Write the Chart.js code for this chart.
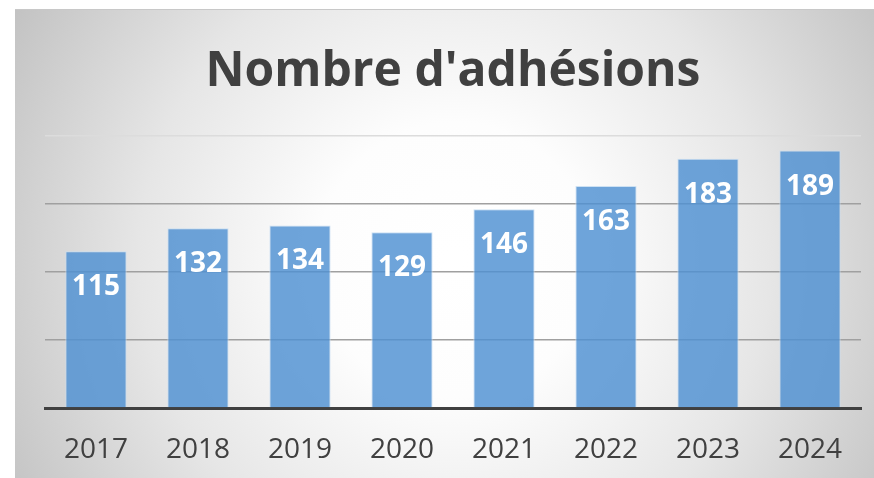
<!DOCTYPE html>
<html>
<head>
<meta charset="utf-8">
<script src="https://cdn.jsdelivr.net/npm/chart.js@4/dist/chart.umd.min.js"></script>
<style>
  html, body { margin: 0; padding: 0; background: #ffffff; }
  #wrap { position: absolute; left: 15px; top: 9px; width: 859px; height: 469px; border-top: 1px solid #c8c8c8; }
  canvas { display: block; }
</style>
</head>
<body>
<div id="wrap"><canvas id="c" width="859" height="468"></canvas></div>
<script>
const titleText = "Nombre d'adhésions";
const categories = ["2017", "2018", "2019", "2020", "2021", "2022", "2023", "2024"];
const adhesions = [115, 132, 134, 129, 146, 163, 183, 189];
const yMax = 200;
const yStep = 50;

const bgPlugin = {
  id: 'bg',
  beforeDraw(chart) {
    const ctx = chart.ctx;
    const w = chart.width, h = chart.height;
    ctx.save();
    const g = ctx.createRadialGradient(440, 250, 10, 440, 250, 520);
    g.addColorStop(0, '#ffffff');
    g.addColorStop(0.25, '#fdfdfd');
    g.addColorStop(0.6, '#e6e6e6');
    g.addColorStop(1, '#c0c0c0');
    ctx.fillStyle = g;
    ctx.fillRect(0, 0, w, h);
    ctx.restore();
  }
};

const labelPlugin = {
  id: 'valueLabels',
  afterDatasetsDraw(chart) {
    const ctx = chart.ctx;
    const meta = chart.getDatasetMeta(0);
    ctx.save();
    ctx.fillStyle = '#ffffff';
    ctx.font = 'bold 28px "Open Sans"';
    ctx.textAlign = 'center';
    ctx.textBaseline = 'middle';
    meta.data.forEach((bar, i) => {
      ctx.fillText(String(chart.data.datasets[0].data[i]), bar.x, bar.y + 36);
    });
    ctx.restore();
  }
};

new Chart(document.getElementById('c'), {
  type: 'bar',
  data: {
    labels: categories,
    datasets: [{
      data: adhesions,
      backgroundColor: 'rgba(78,144,210,0.82)',
      borderColor: 'rgba(200,222,242,0.9)',
      borderWidth: 1,
      categoryPercentage: 1.0,
      barPercentage: 0.6
    }]
  },
  options: {
    responsive: false,
    animation: false,
    devicePixelRatio: 1,
    layout: { padding: { left: 30, right: 13, top: 0, bottom: 0 } },
    plugins: {
      legend: { display: false },
      tooltip: { enabled: false },
      title: {
        display: true,
        text: titleText,
        color: '#404040',
        font: { family: 'Open Sans', weight: 'bold', size: 48, lineHeight: 1.2 },
        padding: { top: 34, bottom: 34 }
      }
    },
    scales: {
      x: {
        grid: { display: false, drawTicks: false },
        border: { display: true, color: '#404040', width: 3 },
        ticks: { color: '#404040', font: { family: 'Open Sans', size: 28, lineHeight: 1.2 }, padding: 25 },
        afterFit(scale) { scale.height = 70; }
      },
      y: {
        min: 0, max: yMax,
        ticks: { display: false, stepSize: yStep },
        border: { display: false },
        grid: {
          drawTicks: false,
          lineWidth: 1.5,
          color: (c) => c.tick && c.tick.value === yMax ? '#dcdcdc' : (c.tick && c.tick.value === 0 ? 'rgba(0,0,0,0)' : '#a0a0a0')
        }
      }
    }
  },
  plugins: [bgPlugin, labelPlugin]
});
</script>
</body>
</html>
